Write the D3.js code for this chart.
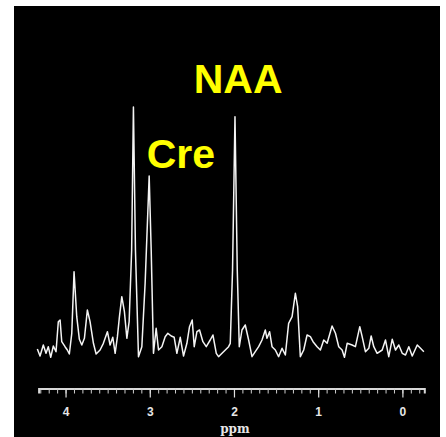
<!DOCTYPE html>
<html>
<head>
<meta charset="utf-8">
<script src="https://cdn.jsdelivr.net/npm/d3@7"></script>
<style>
  html, body { margin: 0; padding: 0; background: #ffffff; }
  svg { display: block; }
</style>
</head>
<body>
<svg id="chart" width="446" height="437"></svg>
<script>
// Chemical shift (ppm) of each sample in the spectrum trace
const ppm = [
  4.335, 4.303, 4.264, 4.232, 4.205, 4.176, 4.145, 4.113, 4.086, 4.065,
  4.045, 4.006, 3.979, 3.955, 3.926, 3.899, 3.867, 3.836, 3.807, 3.776,
  3.741, 3.709, 3.669, 3.637, 3.590, 3.551, 3.503, 3.471, 3.439, 3.411,
  3.384, 3.360, 3.332, 3.301, 3.272, 3.245, 3.215, 3.194, 3.170, 3.134,
  3.094, 3.055, 3.007, 2.983, 2.956, 2.924, 2.896, 2.856, 2.817, 2.785,
  2.745, 2.710, 2.678, 2.638, 2.599, 2.559, 2.528, 2.496, 2.472, 2.440,
  2.409, 2.369, 2.329, 2.282, 2.250, 2.210, 2.183, 2.163, 2.103, 2.064,
  2.044, 2.017, 1.988, 1.961, 1.937, 1.905, 1.866, 1.826, 1.786, 1.747,
  1.707, 1.667, 1.628, 1.608, 1.577, 1.548, 1.509, 1.470, 1.429, 1.390,
  1.351, 1.310, 1.271, 1.244, 1.212, 1.172, 1.132, 1.093, 1.061, 1.013,
  0.974, 0.934, 0.894, 0.835, 0.795, 0.756, 0.716, 0.688, 0.656, 0.597,
  0.558, 0.506, 0.478, 0.439, 0.399, 0.371, 0.340, 0.300, 0.240, 0.201,
  0.162, 0.121, 0.082, 0.043, 0.002, -0.037, -0.076, -0.117, -0.176, -0.215,
  -0.255
];

// Signal intensity (arbitrary units) at each ppm sample
const intensity = [
  11.0, 4.0, 15.0, 6.7, 13.3, 2.7, 14.0, 8.3, 38.3, 40.0,
  18.3, 13.3, 10.0, 6.0, 26.7, 88.3, 43.3, 20.7, 15.0, 21.7,
  50.0, 38.3, 16.7, 6.0, 10.0, 16.7, 28.3, 15.0, 22.7, 6.7,
  23.3, 43.3, 63.3, 48.3, 21.7, 38.3, 110.0, 253.0, 110.0, 3.3,
  13.3, 76.7, 184.0, 110.0, 6.7, 31.7, 10.0, 13.3, 23.3, 26.7,
  24.0, 22.7, 6.7, 22.7, 4.0, 16.7, 33.3, 40.0, 13.3, 28.3,
  30.0, 18.3, 13.3, 20.0, 25.0, 6.7, 3.3, 5.0, 10.0, 13.3,
  16.7, 90.0, 243.3, 90.0, 13.3, 30.0, 35.0, 20.0, 3.3, 8.3,
  13.3, 20.0, 30.0, 21.7, 28.3, 13.3, 10.0, 3.3, 11.7, 5.0,
  36.7, 43.3, 66.7, 53.3, 3.3, 10.0, 25.0, 23.3, 18.3, 13.3,
  10.0, 20.0, 16.7, 34.0, 26.7, 13.3, 10.0, 2.7, 16.7, 15.0,
  13.3, 33.3, 23.3, 8.3, 11.7, 24.0, 13.3, 6.7, 10.0, 20.0,
  3.3, 20.7, 10.0, 15.0, 6.7, 5.0, 13.3, 4.0, 15.0, 11.7,
  8.3
];

// Axis tick values
const majorTicks = [4, 3, 2, 1, 0];
const minorTicks = d3.range(-2, 44).map(d => d / 10);

// Peak annotations
const peakLabels = [
  { name: "NAA", shift: 1.95, level: 267 },
  { name: "Cre", shift: 2.63, level: 192 }
];

const svg = d3.select("#chart");

// Dark plotting panel
svg.append("rect")
  .attr("x", 14).attr("y", 6)
  .attr("width", 426).attr("height", 431)
  .attr("fill", "#000000");

// ppm axis runs right-to-left, as usual for spectra
const x = d3.scaleLinear().domain([4.32, -0.26]).range([38.6, 424.3]);
const y = d3.scaleLinear().domain([0, 260]).range([360, 100]);

// Spectrum trace
const points = ppm.map((p, i) => [p, intensity[i]]);
const line = d3.line().x(d => x(d[0])).y(d => y(d[1]));
svg.append("path")
  .datum(points)
  .attr("d", line)
  .attr("fill", "none")
  .attr("stroke", "#f4f4f4")
  .attr("stroke-width", 1.5)
  .attr("stroke-linejoin", "round");

// Minor ticks every 0.1 ppm
const axisY = 388.5;
const minorAxis = d3.axisBottom(x).tickValues(minorTicks).tickSize(5).tickFormat("");
const gMinor = svg.append("g").attr("transform", `translate(0,${axisY})`).call(minorAxis);
gMinor.select(".domain").attr("stroke", "#d8d8d8").attr("stroke-width", 2);
gMinor.selectAll(".tick line").attr("stroke", "#cfcfcf").attr("stroke-width", 1);

// Major ticks with labels
const majorAxis = d3.axisBottom(x).tickValues(majorTicks).tickSize(9).tickPadding(10)
  .tickFormat(d3.format("d"));
const gMajor = svg.append("g").attr("transform", `translate(0,${axisY})`).call(majorAxis);
gMajor.select(".domain").remove();
gMajor.selectAll(".tick line").attr("stroke", "#e0e0e0").attr("stroke-width", 1.2);
gMajor.selectAll(".tick text")
  .attr("fill", "#e6e6e6")
  .attr("font-family", "'Liberation Sans', Arial, sans-serif")
  .attr("font-weight", "bold")
  .attr("font-size", 12);

// Axis title
svg.append("text")
  .attr("x", x(2) + 1).attr("y", 433)
  .attr("text-anchor", "middle")
  .attr("fill", "#e6e6e6")
  .attr("font-family", "'DejaVu Serif', serif")
  .attr("font-weight", "bold")
  .attr("font-size", 12)
  .text("ppm");

// Metabolite labels
svg.selectAll("text.peak")
  .data(peakLabels)
  .join("text")
  .attr("class", "peak")
  .attr("x", d => x(d.shift))
  .attr("y", d => y(d.level))
  .attr("text-anchor", "middle")
  .attr("fill", "#ffff00")
  .attr("font-family", "'Liberation Sans', Arial, sans-serif")
  .attr("font-weight", "bold")
  .attr("font-size", 41)
  .text(d => d.name);
</script>
</body>
</html>
